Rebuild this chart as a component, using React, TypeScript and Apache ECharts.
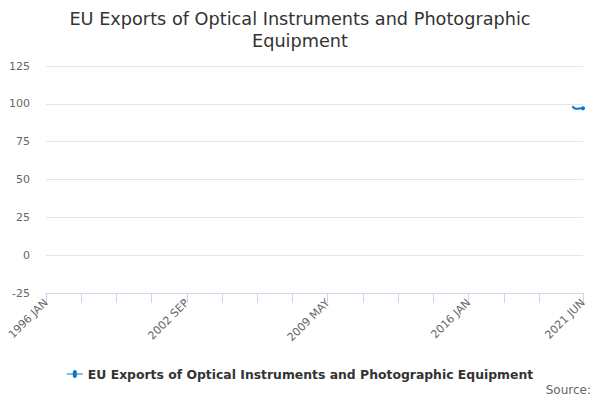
import React, { useEffect, useRef } from "react";
import * as echarts from "echarts";

const MONTHS = ["JAN", "FEB", "MAR", "APR", "MAY", "JUN", "JUL", "AUG", "SEP", "OCT", "NOV", "DEC"];
const START_YEAR = 1996;
const MONTH_COUNT = 306; // 1996 JAN .. 2021 JUN
const categories: string[] = [];
for (let i = 0; i < MONTH_COUNT; i++) {
  categories.push(`${START_YEAR + Math.floor(i / 12)} ${MONTHS[i % 12]}`);
}

// Observed values (only the last months carry data)
const dataStart = "2020 DEC";
const observedValues = [98.4, 97.1, 96.8, 96.8, 96.9, 97.0, 97.1];

const yTicks = [-25, 0, 25, 50, 75, 100, 125];

const seriesName = "EU Exports of Optical Instruments and Photographic Equipment";
const titleText = "EU Exports of Optical Instruments and Photographic\nEquipment";

export default function App() {
  const ref = useRef<HTMLDivElement>(null);
  useEffect(() => {
    document.body.style.margin = "0";
    if (!ref.current) return;
    const chart = echarts.init(ref.current, undefined, { renderer: "svg" });
    const startIdx = categories.indexOf(dataStart);
    const seriesData = categories.map((_, i) =>
      i >= startIdx && i - startIdx < observedValues.length ? observedValues[i - startIdx] : null
    );
    const last = categories.length - 1;
    const font = "DejaVu Sans";
    chart.setOption({
      animation: false,
      backgroundColor: "#ffffff",
      title: {
        text: titleText,
        left: "center",
        top: 3,
        textStyle: { fontFamily: font, fontSize: 17.7, fontWeight: "normal", color: "#333333", lineHeight: 22 },
      },
      grid: { left: 46, right: 17, top: 66, bottom: 107, containLabel: false },
      legend: {
        bottom: 15,
        left: "center",
        itemWidth: 16,
        itemHeight: 8,
        itemGap: 10,
        icon: "path://M0,3.5 L16,3.5 L16,4.5 L0,4.5 Z M6,2 A2,2 0 1,1 10,2 L10,6 A2,2 0 1,1 6,6 Z",
        textStyle: { fontFamily: font, fontSize: 12.4, fontWeight: "bold", color: "#333333" },
        data: [seriesName],
      },
      graphic: [
        {
          type: "text",
          right: 9,
          bottom: 4,
          style: { text: "Source:", fontFamily: font, fontSize: 12, fill: "#666666" },
        },
      ],
      xAxis: {
        type: "category",
        data: categories,
        boundaryGap: false,
        axisLine: { onZero: false, lineStyle: { color: "#ccd6eb", width: 1 } },
        axisTick: {
          show: true,
          length: 10,
          lineStyle: { color: "#ccd6eb" },
          interval: (i: number) => (i % 20 === 0 && i <= 280) || i === last,
        },
        axisLabel: {
          rotate: 45,
          margin: 8,
          interval: (i: number) => i % 80 === 0 || i === last,
          color: "#666666",
          fontFamily: font,
          fontSize: 11,
        },
        splitLine: { show: false },
      },
      yAxis: {
        type: "value",
        min: yTicks[0],
        max: yTicks[yTicks.length - 1],
        interval: 25,
        axisLine: { show: false },
        axisTick: { show: false },
        axisLabel: { color: "#666666", fontFamily: font, fontSize: 11, margin: 16 },
        splitLine: { lineStyle: { color: "#e6e6e6", width: 1 } },
      },
      series: [
        {
          name: seriesName,
          type: "line",
          data: seriesData,
          connectNulls: false,
          smooth: false,
          showSymbol: true,
          symbol: "circle",
          symbolSize: 4,
          lineStyle: { color: "#0a78c8", width: 2 },
          itemStyle: { color: "#0a78c8" },
        },
      ],
    });
    return () => chart.dispose();
  }, []);
  return <div ref={ref} style={{ width: 600, height: 400 }} />;
}
